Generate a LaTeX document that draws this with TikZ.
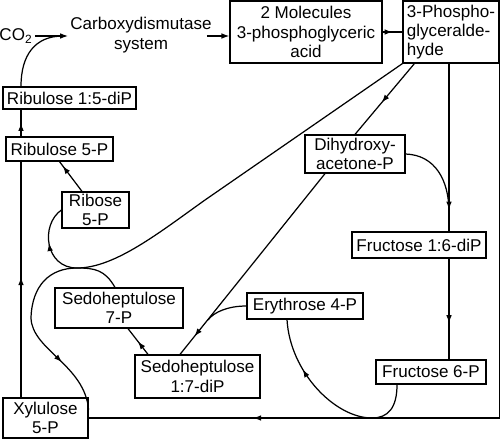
\documentclass[tikz,border=0pt]{standalone}
\usepackage{fontspec}
\setmainfont{Liberation Sans}
\usetikzlibrary{arrows.meta,decorations.markings}

\begin{document}
\begin{tikzpicture}[x=0.02cm,y=-0.02cm,line width=0.7pt,
    font=\fontsize{9.7}{11}\selectfont,
    box/.style={draw,inner sep=0pt,align=center},
    arrowend/.style={-{Latex[length=4.5pt,width=3.2pt]}},
    midarrow/.style={postaction={decorate},decoration={markings,
      mark=at position #1 with {\arrow{Latex[length=4.5pt,width=3.2pt]}}}},
    midarrow/.default=0.5]
  \useasboundingbox (0,0) rectangle (500,439);
  % boxes
  \node[box,minimum width=3.04cm,minimum height=1.24cm] (mol) at (306,32) {2 Molecules\\3-phosphoglyceric\\acid};
  \node[box,align=left,minimum width=1.92cm,minimum height=1.24cm] (pga) at (451,32) {3-Phospho-\\glyceralde-\\hyde};
  \node[box,minimum width=2.66cm,minimum height=0.44cm] (rubp) at (69.5,98) {Ribulose 1:5-diP};
  \node[box,minimum width=2.14cm,minimum height=0.48cm] (ru5p) at (59.5,149) {Ribulose 5-P};
  \node[box,minimum width=1.34cm,minimum height=0.72cm] (r5p) at (95.5,210) {Ribose\\5-P};
  \node[box,minimum width=2cm,minimum height=0.76cm] (dhap) at (355,154) {Dihydroxy-\\acetone-P};
  \node[box,minimum width=2.68cm,minimum height=0.52cm] (fdp) at (419,245) {Fructose 1:6-diP};
  \node[box,minimum width=2.2cm,minimum height=0.48cm] (f6p) at (431,372) {Fructose 6-P};
  \node[box,minimum width=2.32cm,minimum height=0.52cm] (e4p) at (305,306) {Erythrose 4-P};
  \node[box,minimum width=2.56cm,minimum height=0.8cm] (s7p) at (119,308) {Sedoheptulose\\7-P};
  \node[box,minimum width=2.5cm,minimum height=0.86cm] (sdp) at (197.5,376.5) {Sedoheptulose\\1:7-diP};
  \node[box,minimum width=1.7cm,minimum height=0.8cm] (xu5p) at (45.5,418) {Xylulose\\5-P};
  \node[inner sep=1pt] (co2) at (16,36) {CO\textsubscript{2}};
  \node[inner sep=1pt,align=center] (carb) at (141,35) {Carboxydismutase\\system};
  % helper points
  \coordinate (spine) at (21,0);
  \coordinate (fcol) at (449,0);
  \coordinate (cin) at (63,36);
  \coordinate (fmerge) at (449,212);
  \coordinate (emerge) at (208,320);
  \coordinate (kiss) at (77,268);
  % top row
  \draw[arrowend] (co2) -- (co2 -| carb.west);
  \draw (rubp.north -| spine) .. controls (21,55) and (35,36) .. (cin);
  \draw[arrowend] ([xshift=-4pt]carb.east |- co2) -- (mol.west |- co2);
  \draw[midarrow] (mol) -- (pga);
  % right side
  \draw[midarrow=0.55] ([xshift=0.24cm]pga.south west) -- (dhap.north);
  \draw[midarrow=0.87] (pga.south -| fcol) -- (fdp.north -| fcol);
  \draw (dhap.east) .. controls (435,155) and (449,180) .. (fmerge);
  \draw[midarrow=0.64] (fdp.south -| fcol) -- (f6p.north -| fcol);
  \draw[midarrow=0.785] (pga.south east) |- (xu5p);
  \draw[midarrow=0.72] ([xshift=-0.68cm]f6p.south) .. controls (397,408) and (388,418) .. (372,418)
    .. controls (335,418) and (290,372) .. ([xshift=-0.36cm]e4p.south);
  % middle
  \draw[midarrow=0.9] ([xshift=-0.6cm]dhap.south) -- ([xshift=-0.35cm]sdp.north);
  \draw (e4p.west) .. controls (228,306) and (214,312) .. (emerge);
  \draw[midarrow] ([xshift=-0.99cm]sdp.north) -- ([xshift=0.18cm]s7p.south);
  % left side
  \draw[midarrow=0.85] ([xshift=-0.27cm]r5p.north) -- (ru5p.south);
  \draw[midarrow=0.51] (xu5p.north -| spine) -- (ru5p.south -| spine);
  \draw[midarrow] (ru5p.north -| spine) -- (rubp.south -| spine);
  \draw[midarrow=0.92] (pga.south west) -- (205,200) .. controls (160,232) and (115,268) .. (kiss)
    .. controls (45,268) and (40,225) .. (r5p.west);
  \draw[midarrow=0.76] ([xshift=-0.08cm]s7p.north) .. controls (105,270) and (95,268) .. (kiss)
    .. controls (50,268) and (32,285) .. (31,318) .. controls (32,350) and (85,365) .. ([yshift=0.16cm]xu5p.east);
\end{tikzpicture}
\end{document}
